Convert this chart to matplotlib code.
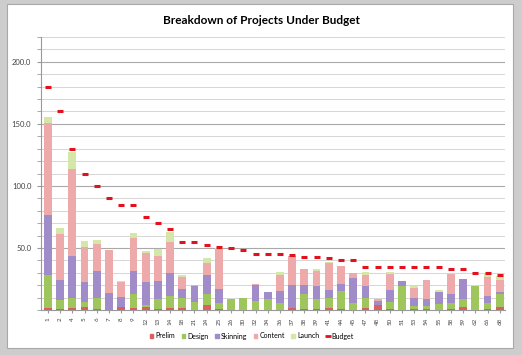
import matplotlib
matplotlib.use('Agg')
import numpy as np
import matplotlib.pyplot as plt
from matplotlib.patches import Rectangle
from matplotlib.lines import Line2D

plt.rcParams['font.family'] = ['Lato', 'DejaVu Sans']

# project ids along the x axis
projects = ['1', '2', '4', '5', '6', '7', '8', '9', '12', '13', '14', '18', '21', '24', '25', '26',
            '30', '32', '34', '36', '37', '38', '39', '41', '44', '45', '47', '48', '50', '51',
            '53', '54', '55', '58', '59', '62', '66', '68']

# stacked pieces
prelim = [1.5, 1, 1.5, 2.5, 0.5, 0, 2.5, 1.5, 2.4, 1, 1.6, 1.3, 0, 4, 0.5, 0,
          0, 0, 0, 0, 2, 1, 1, 1.3, 1, 0, 1.3, 4, 1, 0,
          1, 0.5, 0, 1, 2.2, 0, 1, 2.2]
design = [27, 7, 8, 4, 9, 0, 0, 11.5, 1.6, 8, 10, 8, 6.7, 9, 5.5, 9,
          10, 7, 9, 6, 0, 11.6, 7.6, 8.7, 14.6, 6, 8.7, 0, 5.7, 19.4,
          2.2, 3, 4.8, 4.4, 6.4, 19, 5, 10.8]
skinning = [48, 16, 34, 16, 22, 13.5, 8, 18.5, 18.6, 14.7, 18, 8, 12.7, 15, 11, 0,
            0, 13, 5.5, 9, 18, 7.4, 10.8, 6, 5.4, 19.5, 9.6, 3, 9.3, 4.3,
            6.8, 5, 9.4, 7.6, 16.4, 0, 5.6, 1.8]
content = [74, 37, 70, 28, 22, 34.5, 12, 26.5, 23.4, 20, 25.5, 9, 0.6, 9.6, 32, 0,
           0, 0.7, 0, 13, 23.5, 12.8, 12.3, 21.6, 14.5, 4.1, 8.4, 1.9, 12.8, 0,
           8, 15.6, 0, 15.8, 0, 0, 14.7, 9.4]
launch = [5, 5, 14, 5.5, 3, 0, 0.5, 4, 1.6, 5.2, 7.4, 1.7, 0, 4, 1, 0,
          0, 0, 0, 2.5, 0, 0, 1, 0.8, 0, 0, 2.4, 0, 1.6, 0,
          1.4, 0, 1.8, 0, 0, 0.5, 2.5, 2.8]
budget = [180, 160, 130, 110, 100, 90, 85, 85, 75, 70, 65, 55, 55, 52, 51, 50,
          48, 45, 45, 45, 44, 43, 43, 42, 40, 40, 35, 35, 35, 35,
          35, 35, 35, 33, 33, 30, 30, 28]

series = [('Prelim', prelim, '#d9605f'),
          ('Design', design, '#9fc65c'),
          ('Skinning', skinning, '#a08cc8'),
          ('Content', content, '#eeaaaa'),
          ('Launch', launch, '#d4e7a8')]

fig = plt.figure(figsize=(5.22, 3.55), dpi=100)
fig.patch.set_facecolor('#cdcdcd')
# white chart frame like the spreadsheet chart
fig.patches.append(Rectangle((7/522, 1 - 348/355), 506/522, 344/355, transform=fig.transFigure,
                             facecolor='white', edgecolor='#a8a8a8', lw=0.8, zorder=-10))

ax = fig.add_axes([41/522, 1 - 310/355, 464/522, 273/355])
ax.set_facecolor('white')

x = np.arange(len(projects))
bottom = np.zeros(len(projects))
for name, vals, col in series:
    vals = np.array(vals, dtype=float)
    ax.bar(x, vals, 0.64, bottom=bottom, color=col, edgecolor='none', label=name, zorder=3)
    bottom += vals

ax.plot(x, budget, linestyle='none', marker='_', ms=4.5, mew=2.2, color='#e3101e', zorder=4, label='Budget')

ax.set_xlim(-0.57, len(projects) - 0.57)
ax.set_ylim(0, 220)
ax.set_yticks([50, 100, 150, 200])
ax.set_yticklabels(['50.0', '100.0', '150.0', '200.0'], fontsize=5.5, color='#444444')
ax.set_yticks(np.arange(0, 221, 10), minor=True)
ax.yaxis.grid(True, which='minor', color='#d6d6d6', lw=0.7, zorder=0)
ax.yaxis.grid(True, which='major', color='#a9a9a9', lw=0.8, zorder=0)
ax.tick_params(axis='y', which='both', length=3, color='#999999', pad=4)
ax.set_xticks(x)
ax.set_xticklabels(projects, rotation=90, fontsize=4.5, color='#444444')
ax.tick_params(axis='x', length=2.5, color='#999999', pad=3)

for side in ['top', 'right']:
    ax.spines[side].set_visible(False)
ax.spines['left'].set_color('#999999')
ax.spines['bottom'].set_color('#999999')

fig.text(0.5, 1 - 20/355, 'Breakdown of Projects Under Budget', ha='center', va='center',
         fontsize=8.5, fontweight='bold')

handles = [Rectangle((0, 0), 1, 1, color=c) for _, _, c in series]
handles.append(Line2D([], [], linestyle='none', marker='_', ms=4, mew=2.0, color='#e3101e'))
labels = [n for n, _, _ in series] + ['Budget']
fig.legend(handles, labels, loc='center', bbox_to_anchor=(252/522, 1 - 336/355), ncol=6,
           frameon=False, fontsize=5, handlelength=0.5, handleheight=0.5,
           handletextpad=0.35, columnspacing=0.9)

plt.savefig('out.png', dpi=100, facecolor=fig.get_facecolor())
